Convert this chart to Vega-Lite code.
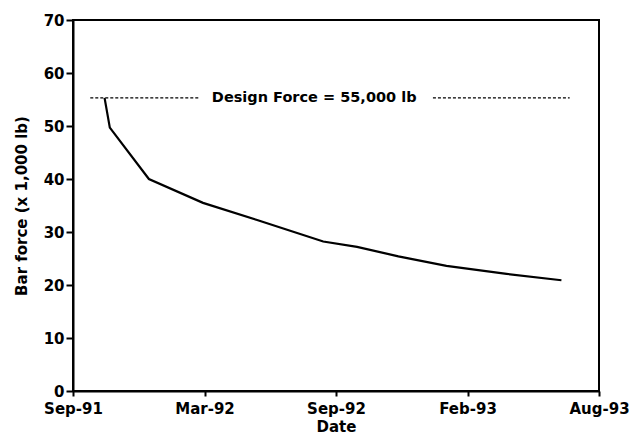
{
  "$schema": "https://vega.github.io/schema/vega-lite/v6.json",
  "width": 526,
  "height": 371,
  "autosize": "none",
  "padding": {"left": 73, "top": 20, "right": 32, "bottom": 46},
  "background": "white",
  "config": {
    "view": {"stroke": "black", "strokeWidth": 2},
    "font": "DejaVu Sans",
    "axis": {
      "domainColor": "black",
      "domainWidth": 2,
      "tickColor": "black",
      "tickWidth": 2,
      "grid": false,
      "labelFont": "DejaVu Sans",
      "labelFontWeight": "bold",
      "labelFontSize": 15,
      "labelColor": "black",
      "titleFont": "DejaVu Sans",
      "titleFontWeight": "bold",
      "titleFontSize": 15,
      "titleColor": "black"
    }
  },
  "datasets": {
    "force": [
      {"date": "1991-11-01", "force": 55.3},
      {"date": "1991-11-08", "force": 49.7},
      {"date": "1991-12-30", "force": 40.0},
      {"date": "1992-03-11", "force": 35.5},
      {"date": "1992-05-21", "force": 32.3},
      {"date": "1992-08-18", "force": 28.2},
      {"date": "1992-10-02", "force": 27.2},
      {"date": "1992-11-26", "force": 25.4},
      {"date": "1993-01-29", "force": 23.6},
      {"date": "1993-04-19", "force": 22.1},
      {"date": "1993-07-01", "force": 20.9}
    ],
    "design": [
      {"start": "1991-10-13", "end": "1992-03-07", "force": 55.3},
      {"start": "1993-01-11", "end": "1993-07-12", "force": 55.3}
    ],
    "label": [
      {"date": "1992-08-06", "force": 55.3, "text": "Design Force = 55,000 lb"}
    ]
  },
  "layer": [
    {
      "data": {"name": "force"},
      "mark": {"type": "line", "color": "black", "strokeWidth": 2.2},
      "encoding": {
        "x": {
          "field": "date",
          "type": "temporal",
          "title": "Date",
          "scale": {
            "type": "utc",
            "domain": [
              {"year": 1991, "month": 9, "date": 20, "utc": true},
              {"year": 1993, "month": 8, "date": 20, "utc": true}
            ]
          },
          "axis": {
            "values": [
              {"year": 1991, "month": 9, "date": 20, "utc": true},
              {"year": 1992, "month": 3, "date": 13, "utc": true},
              {"year": 1992, "month": 9, "date": 4, "utc": true},
              {"year": 1993, "month": 2, "date": 26, "utc": true},
              {"year": 1993, "month": 8, "date": 20, "utc": true}
            ],
            "format": "%b-%y",
            "tickSize": 5,
            "labelPadding": 5,
            "titlePadding": 3,
            "labelOverlap": false,
            "labelFlush": false
          }
        },
        "y": {
          "field": "force",
          "type": "quantitative",
          "title": "Bar force (x 1,000 lb)",
          "scale": {"domain": [0, 70], "nice": false},
          "axis": {
            "values": [0, 10, 20, 30, 40, 50, 60, 70],
            "tickSize": 7,
            "labelPadding": 2,
            "titlePadding": 14
          }
        }
      }
    },
    {
      "data": {"name": "design"},
      "mark": {"type": "rule", "color": "black", "strokeWidth": 1.2, "strokeDash": [3, 2]},
      "encoding": {
        "x": {"field": "start", "type": "temporal"},
        "x2": {"field": "end"},
        "y": {"field": "force", "type": "quantitative"}
      }
    },
    {
      "data": {"name": "label"},
      "mark": {"type": "text", "font": "DejaVu Sans", "fontWeight": "bold", "fontSize": 14.5, "color": "black", "align": "center", "baseline": "middle"},
      "encoding": {
        "x": {"field": "date", "type": "temporal"},
        "y": {"field": "force", "type": "quantitative"},
        "text": {"field": "text"}
      }
    }
  ]
}
